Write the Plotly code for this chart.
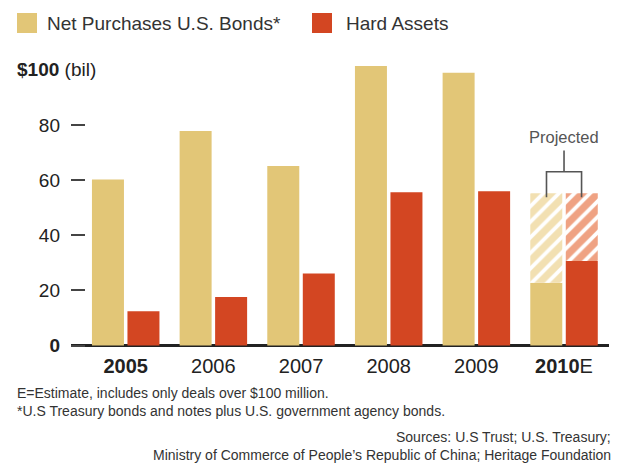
import plotly.graph_objects as go

# ---- data ----
years = ["2005", "2006", "2007", "2008", "2009", "2010"]
year_labels = ["<b>2005</b>", "2006", "2007", "2008", "2009", "<b>2010</b>E"]
bonds = [60.3, 77.9, 65.2, 101.5, 99.0, 22.8]
hard_assets = [12.4, 17.6, 26.1, 55.6, 56.0, 30.7]
projected_year = ["2010"]
projected_bonds_total = [55.3]
projected_assets_total = [55.3]
y_tick_vals = [0, 20, 40, 60, 80]
y_tick_text = ["<b>0</b>", "20", "40", "60", "80"]

TAN = "#E2C677"
TAN_LIGHT = "#F2E0B2"
RED = "#D34622"
RED_LIGHT = "#EFA283"
FONT = "Liberation Sans, Arial, sans-serif"

xi = list(range(len(years)))
proj_i = [years.index(y) for y in projected_year]

W = 0.365
OFF_B = -0.385
OFF_R = 0.02

fig = go.Figure()
fig.add_trace(go.Bar(x=xi, y=bonds, width=W, offset=OFF_B, marker=dict(color=TAN, line=dict(width=0)),
                     name="Net Purchases U.S. Bonds*", showlegend=False))
fig.add_trace(go.Bar(x=xi, y=hard_assets, width=W, offset=OFF_R, marker=dict(color=RED, line=dict(width=0)),
                     name="Hard Assets", showlegend=False))

pb_base = [bonds[i] for i in proj_i]
pr_base = [hard_assets[i] for i in proj_i]
fig.add_trace(go.Bar(x=proj_i, y=[t - b for t, b in zip(projected_bonds_total, pb_base)], base=pb_base,
                     width=W, offset=OFF_B, showlegend=False,
                     marker=dict(color=TAN_LIGHT, line=dict(width=0),
                                 pattern=dict(shape="/", bgcolor=TAN_LIGHT, fgcolor="white",
                                              fgopacity=1, size=11, solidity=0.35, fillmode="replace"))))
fig.add_trace(go.Bar(x=proj_i, y=[t - b for t, b in zip(projected_assets_total, pr_base)], base=pr_base,
                     width=W, offset=OFF_R, showlegend=False,
                     marker=dict(color=RED_LIGHT, line=dict(width=0),
                                 pattern=dict(shape="/", bgcolor=RED_LIGHT, fgcolor="white",
                                              fgopacity=1, size=11, solidity=0.35, fillmode="replace"))))

# page is offset by the 8px body margin; page-coordinates below
PAGE_OFF = 8
PL, PR, PT, PB = 71, 609, 59, 347   # plot area in page pixels
FIG_W, FIG_H = 630 - PAGE_OFF, 474 - PAGE_OFF
PW, PH = PR - PL, PB - PT


def px(x):
    return (x - PL) / PW


def py(y):
    return (PB - y) / PH


shapes = [
    dict(type="rect", xref="paper", yref="paper", x0=px(17), x1=px(37), y0=py(33), y1=py(13),
         fillcolor=TAN, line=dict(width=0)),
    dict(type="rect", xref="paper", yref="paper", x0=px(312), x1=px(332), y0=py(33), y1=py(13),
         fillcolor=RED, line=dict(width=0)),
    dict(type="path", xref="x", yref="y",
         path="M 4.8,53.8 L 4.8,63.1 L 5.2,63.1 L 5.2,53.8",
         line=dict(color="#555555", width=1.6)),
    dict(type="line", xref="x", yref="y", x0=5, x1=5, y0=63.1, y1=70.8,
         line=dict(color="#555555", width=1.6)),
]

TXT = "#333333"
annotations = [
    dict(text="Net Purchases U.S. Bonds*", x=px(45), y=py(23), xref="paper", yref="paper",
         xanchor="left", yanchor="middle", showarrow=False, font=dict(size=19, color=TXT)),
    dict(text="Hard Assets", x=px(344), y=py(23), xref="paper", yref="paper",
         xanchor="left", yanchor="middle", showarrow=False, font=dict(size=19, color=TXT)),
    dict(text="<b>$100</b> (bil)", x=px(15), y=py(70), xref="paper", yref="paper",
         xanchor="left", yanchor="middle", showarrow=False, font=dict(size=19, color="#222222")),
    dict(text="Projected", x=5, y=75.8, xref="x", yref="y",
         xanchor="center", yanchor="middle", showarrow=False, font=dict(size=16.5, color="#555555")),
    dict(text="E=Estimate, includes only deals over $100 million.", x=px(15), y=py(393),
         xref="paper", yref="paper", xanchor="left", yanchor="middle", showarrow=False,
         font=dict(size=14, color=TXT)),
    dict(text="*U.S Treasury bonds and notes plus U.S. government agency bonds.", x=px(15), y=py(411),
         xref="paper", yref="paper", xanchor="left", yanchor="middle", showarrow=False,
         font=dict(size=14, color=TXT)),
    dict(text="Sources: U.S Trust; U.S. Treasury;", x=px(613), y=py(437),
         xref="paper", yref="paper", xanchor="right", yanchor="middle", showarrow=False,
         font=dict(size=14, color=TXT)),
    dict(text="Ministry of Commerce of People\u2019s Republic of China; Heritage Foundation", x=px(613), y=py(455),
         xref="paper", yref="paper", xanchor="right", yanchor="middle", showarrow=False,
         font=dict(size=14, color=TXT)),
]

fig.update_layout(
    width=FIG_W, height=FIG_H,
    margin=dict(l=PL - PAGE_OFF, r=630 - PR, t=PT - PAGE_OFF, b=474 - PB, pad=0),
    paper_bgcolor="white", plot_bgcolor="white",
    barmode="overlay",
    font=dict(family=FONT, color="#222222"),
    shapes=shapes, annotations=annotations,
    xaxis=dict(range=[-0.624, 5.513], tickvals=xi, ticktext=year_labels, showgrid=False,
               showline=False, zeroline=False, ticks="", tickfont=dict(size=20, color="#222222"),
               ticklabelstandoff=5, fixedrange=True),
    yaxis=dict(range=[-0.54, 104], tickvals=y_tick_vals, ticktext=y_tick_text, showgrid=False,
               showline=False, zeroline=True, zerolinecolor="#222222", zerolinewidth=3,
               ticks="inside", ticklen=14, tickwidth=2, tickcolor="#444444",
               tickfont=dict(size=19, color="#222222"), ticklabelstandoff=10, fixedrange=True),
)

fig.write_html("out.html")
